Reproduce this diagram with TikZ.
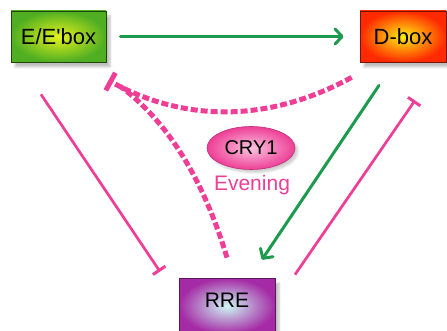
\documentclass[tikz,border=0pt]{standalone}
\usepackage{fontspec}
\setmainfont{Liberation Sans}
\usetikzlibrary{arrows.meta,shapes.geometric,shadows.blur}

\definecolor{actgreen}{HTML}{1E9A4E}
\definecolor{repink}{HTML}{EE3E96}
\definecolor{egreen}{HTML}{4FAE22}
\definecolor{eyellow}{HTML}{E4F21C}
\definecolor{dred}{HTML}{FF2A00}
\definecolor{dyellow}{HTML}{FFEE10}
\definecolor{rpurple}{HTML}{A52AA5}
\definecolor{rcyan}{HTML}{CDF6F4}

\tikzset{
  genebox/.style={draw, line width=0.8pt, minimum width=95pt, minimum height=51pt,
    inner sep=0pt, shading=radial, font=\fontsize{22}{24}\selectfont,
    blur shadow={shadow xshift=4pt, shadow yshift=-5pt, shadow blur steps=6, shadow opacity=25}},
  activate/.style={draw=actgreen, line width=3pt, line cap=round,
    -{Straight Barb[length=7pt, width=15pt, line width=3pt, round]}},
  repress/.style={draw=repink, line width=2.7pt, -{Bar[width=15pt, line width=3pt]}},
  crydash/.style={draw=repink, line width=5pt, dash pattern=on 7pt off 3pt},
}

\begin{document}
\begin{tikzpicture}[x=1pt, y=-1pt]
\useasboundingbox (0,0) rectangle (447,331);

% gene boxes
\node[genebox, draw=black!60!egreen, inner color=eyellow, outer color=egreen]
  (Ebox) at (58.5,36.5) {E/E\textquotesingle box};
\node[genebox, draw=black!55!dred, minimum width=86pt, inner color=dyellow, outer color=dred]
  (Dbox) at (403,36.5) {D-box};
\node[genebox, draw=black!45!rpurple, minimum width=96pt, minimum height=56pt,
      inner color=rcyan, outer color=rpurple] (RRE) at (227,306) {};
\node[font=\fontsize{21}{23}\selectfont] (RRElabel) at (227,300) {RRE};

% CRY1 repressor in the evening
\node[ellipse, draw=black!20!repink, line width=0.6pt, minimum width=88pt, minimum height=43pt,
      inner sep=0pt, shading=radial, inner color=white!70!repink, outer color=repink,
      font=\fontsize{20}{22}\selectfont,
      blur shadow={shadow xshift=3pt, shadow yshift=-3pt, shadow blur steps=5, shadow opacity=20}]
  (CRY) at (251,148) {CRY1};
\node[text=repink, font=\fontsize{21}{23}\selectfont] (Evening) at (252,185) {Evening};

% activation arrows
\draw[activate, shorten <=14pt, shorten >=16pt] (Ebox.east) -- (Dbox.west);
\draw[activate] ([xshift=-24pt, yshift=-23pt]Dbox.south) -- ([xshift=35pt, yshift=18pt]RRE.north);

% repression by RRE and of RRE
\draw[repress] ([xshift=68pt, yshift=3pt]RRE.north) -- ([xshift=12pt, yshift=-38pt]Dbox.south);
\draw[repress] ([xshift=-17.5pt, yshift=-32pt]Ebox.south) -- ([xshift=-67pt, yshift=6pt]RRE.north);

% CRY1 repression onto E/E'box
\draw[crydash, -{Bar[width=20pt, line width=5pt]}]
  ([xshift=-8pt, yshift=-15pt]Dbox.south west) .. controls (272,121) and (188,124) ..
  ([xshift=2pt, yshift=-18pt]Ebox.south east);
\draw[crydash]
  ([yshift=20pt]RRE.north) .. controls (203.3,179.1) and (167.7,121.7) ..
  ([xshift=14pt, yshift=-24pt]Ebox.south east);
\end{tikzpicture}
\end{document}
